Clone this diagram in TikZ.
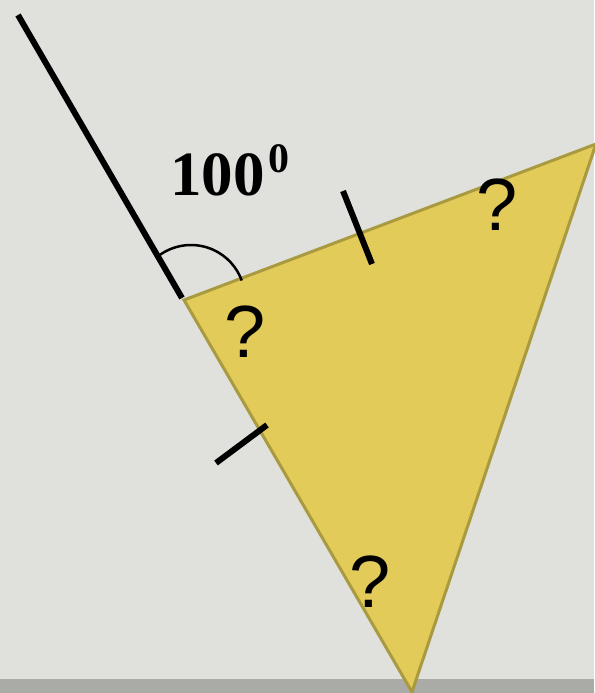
\documentclass[tikz,border=0pt]{standalone}
\usepackage{fontspec}
\setmainfont{Liberation Serif}
\newfontfamily\qfont{Liberation Sans}
\definecolor{bg}{HTML}{E0E1DC}
\definecolor{tri}{HTML}{E3CB5A}
\definecolor{triedge}{HTML}{A99A40}
\definecolor{strip}{HTML}{AAAAA6}
\tikzset{
  blk/.style={line width=6pt, black},
  qmark/.style={inner sep=0pt, anchor=center, font=\qfont\fontsize{74}{74}\selectfont},
}
\begin{document}
\begin{tikzpicture}[x=1pt,y=-1pt]
\fill[bg] (0,0) rectangle (594,693);
\useasboundingbox (0,0) rectangle (594,693);
\fill[strip] (0,679) rectangle (594,693);
\coordinate (A) at (184,300);
\coordinate (B) at (596,144);
\coordinate (C) at (412,692);
\filldraw[fill=tri, draw=triedge, line width=3pt, line join=miter] (A) -- (B) -- (C) -- cycle;
\coordinate (L1) at (18,15);
\coordinate (L2) at (182,298);
\draw[blk] (L1) -- (L2);
\coordinate (T1a) at (343,191);
\coordinate (T1b) at (372,264);
\draw[blk] (T1a) -- (T1b);
\coordinate (T2a) at (216,463);
\coordinate (T2b) at (267,425);
\draw[blk] (T2a) -- (T2b);
\draw[line width=2.5pt] (191,299) ++(-125:54) arc[start angle=-125, end angle=-20, radius=54];
\node[inner sep=0pt, anchor=base west, font=\bfseries\fontsize{63}{63}\selectfont] (ang) at (170,195) {100};
\node[inner sep=0pt, anchor=base west, font=\bfseries\fontsize{42}{42}\selectfont] (sup) at (ang.base east) [xshift=3pt, yshift=23pt] {0};
\node[qmark] (q1) at (245,332) {?};
\node[qmark] (q2) at (370,582) {?};
\node[qmark] (q3) at (497,205) {?};
\end{tikzpicture}
\end{document}
